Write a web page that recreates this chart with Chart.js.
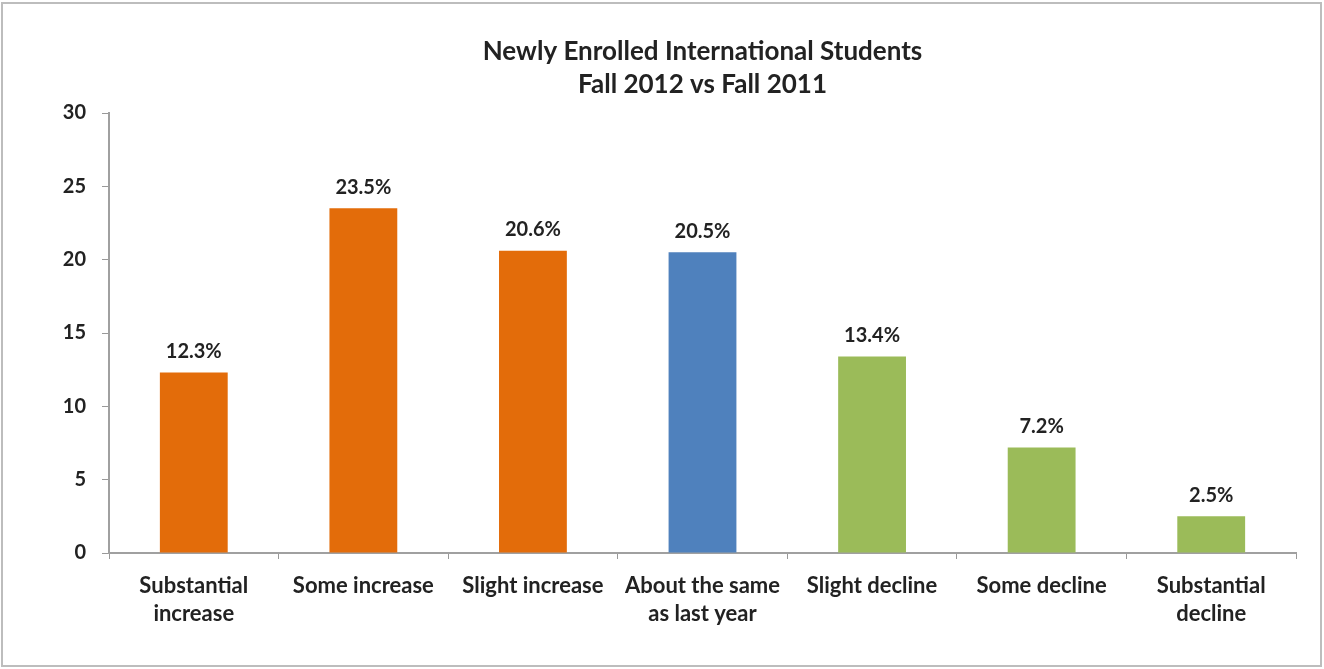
<!DOCTYPE html>
<html>
<head>
<meta charset="utf-8">
<script src="https://cdn.jsdelivr.net/npm/chart.js@4.4.1/dist/chart.umd.min.js"></script>
<style>
  html, body { margin: 0; padding: 0; background: #fff; }
  #wrap { position: relative; width: 1324px; height: 669px; }
</style>
</head>
<body>
<div id="wrap"><canvas id="enrollChart"></canvas></div>
<script>
// Newly enrolled international students, Fall 2012 vs Fall 2011
const categories = [
    ['Substantial', 'increase'],
    'Some increase',
    'Slight increase',
    ['About the same', 'as last year'],
    'Slight decline',
    'Some decline',
    ['Substantial', 'decline']
];
const percentages = [12.3, 23.5, 20.6, 20.5, 13.4, 7.2, 2.5];
const barColors = ['#E36C0A', '#E36C0A', '#E36C0A', '#4F81BD', '#9BBB59', '#9BBB59', '#9BBB59'];
const yTicks = [0, 5, 10, 15, 20, 25, 30];
const titleLines = ['Newly Enrolled International Students', 'Fall 2012 vs Fall 2011'];

const fontFamily = 'Lato, "Open Sans", sans-serif';

// labels above the bars
const valueLabels = {
    id: 'valueLabels',
    afterDatasetsDraw(chart) {
        const ctx = chart.ctx;
        const meta = chart.getDatasetMeta(0);
        ctx.save();
        ctx.font = 'bold 20px ' + fontFamily;
        ctx.fillStyle = '#222';
        ctx.textAlign = 'center';
        ctx.textBaseline = 'middle';
        meta.data.forEach((bar, i) => {
            ctx.fillText(percentages[i].toFixed(1) + '%', bar.x, bar.y - 21);
        });
        ctx.restore();
    }
};

// frame round the picture + title centred over the plot area
const frameAndTitle = {
    id: 'frameAndTitle',
    beforeDraw(chart) {
        const ctx = chart.ctx;
        ctx.save();
        ctx.fillStyle = '#fff';
        ctx.fillRect(0, 0, chart.width, chart.height);
        ctx.strokeStyle = '#bdbdbd';
        ctx.lineWidth = 2;
        ctx.strokeRect(2, 3, chart.width - 5, chart.height - 6);
        ctx.restore();
    },
    afterDraw(chart) {
        const ctx = chart.ctx;
        const a = chart.chartArea;
        const cx = (a.left + a.right) / 2;
        ctx.save();
        ctx.font = 'bold 26px ' + fontFamily;
        ctx.fillStyle = '#222';
        ctx.textAlign = 'center';
        ctx.textBaseline = 'middle';
        titleLines.forEach((line, i) => ctx.fillText(line, cx, 52 + i * 33));
        ctx.restore();
    }
};

const ctxEnroll = document.getElementById('enrollChart').getContext('2d');
const enrollChart = new Chart(ctxEnroll, {
    type: 'bar',
    data: {
        labels: categories,
        datasets: [{
            data: percentages,
            backgroundColor: barColors,
            categoryPercentage: 1,
            barPercentage: 0.4
        }]
    },
    plugins: [frameAndTitle, valueLabels],
    options: {
        responsive: true,
        maintainAspectRatio: false,
        animation: false,
        layout: { padding: { top: 113, right: 28, bottom: 0, left: 0 } },
        plugins: {
            legend: { display: false },
            tooltip: { enabled: false },
            title: { display: false }
        },
        scales: {
            x: {
                grid: {
                    offset: true,
                    drawOnChartArea: false,
                    drawTicks: true,
                    tickLength: 6,
                    color: '#999'
                },
                border: { color: '#a0a0a0', width: 2 },
                ticks: {
                    color: '#222',
                    padding: 13,
                    maxRotation: 0,
                    autoSkip: false,
                    font: { family: fontFamily, size: 22, weight: 'bold', lineHeight: 1.27 }
                },
                afterFit(scale) { scale.height = 116; }
            },
            y: {
                min: 0,
                max: 30,
                afterBuildTicks(scale) { scale.ticks = yTicks.map(v => ({ value: v })); },
                grid: {
                    drawOnChartArea: false,
                    drawTicks: true,
                    tickLength: 7,
                    color: '#999'
                },
                border: { color: '#a0a0a0', width: 2 },
                ticks: {
                    color: '#222',
                    padding: 16,
                    font: { family: fontFamily, size: 20, weight: 'bold' }
                },
                afterFit(scale) { scale.width = 109; }
            }
        }
    }
});
</script>
</body>
</html>
